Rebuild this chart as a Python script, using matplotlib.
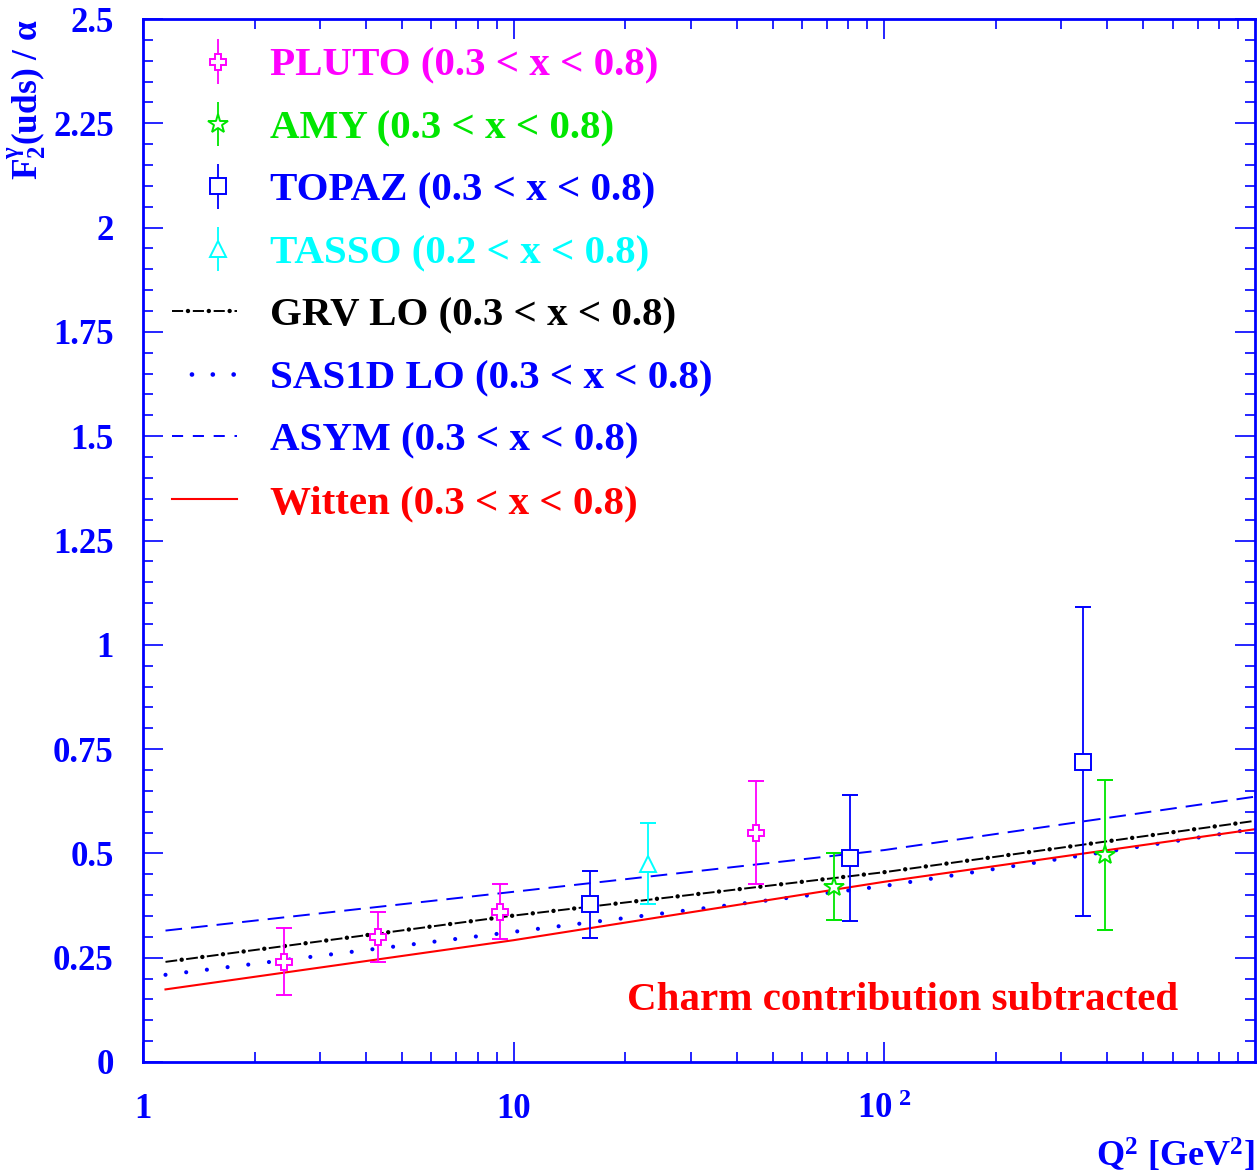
import numpy as np
import matplotlib
matplotlib.use('Agg')
import matplotlib.pyplot as plt
from matplotlib.lines import Line2D
from matplotlib.legend_handler import HandlerErrorbar

plt.rcParams['font.family'] = ['Liberation Serif', 'DejaVu Serif']
plt.rcParams['font.weight'] = 'bold'
plt.rcParams['mathtext.fontset'] = 'custom'
plt.rcParams['mathtext.rm'] = 'Liberation Serif:weight=bold'
plt.rcParams['mathtext.it'] = 'Liberation Serif:style=italic:weight=bold'
plt.rcParams['mathtext.bf'] = 'Liberation Serif:weight=bold'
plt.rcParams['mathtext.default'] = 'bf'
plt.rcParams['lines.scale_dashes'] = False

#measured points
pluto_q2 = [2.4, 4.3, 9.2, 45.0]
pluto_f2 = [0.24, 0.30, 0.36, 0.55]
pluto_err = [0.08, 0.06, 0.066, 0.123]

amy_q2 = [73.0, 395.0]
amy_f2 = [0.42, 0.497]
amy_err = [0.08, 0.18]

topaz_q2 = [16.1, 81.0, 343.0]
topaz_f2 = [0.378, 0.489, 0.72]
topaz_err = [0.08, 0.15, 0.37]

tasso_q2 = [23.0]
tasso_f2 = [0.475]
tasso_err = [0.097]

#model curves
curve_q2 = [1.15, 10.0, 100.0, 1000.0]
grv_f2 = [0.240, 0.351, 0.455, 0.578]
sas_f2 = [0.209, 0.312, 0.422, 0.559]
asym_f2 = [0.315, 0.408, 0.508, 0.636]
witten_f2 = [0.174, 0.292, 0.432, 0.558]

ytick_vals = [0, 0.25, 0.5, 0.75, 1, 1.25, 1.5, 1.75, 2, 2.25, 2.5]
ytick_labels = ['0', '0.25', '0.5', '0.75', '1', '1.25', '1.5', '1.75', '2', '2.25', '2.5']
xtick_vals = [1, 10, 100]
xtick_labels = ['1', '10', r'$\mathbf{10^{\ 2}}$']

BLUE = '#0000ff'
MAG = '#ff00ff'
GRN = '#00e600'
CYA = '#00ffff'
RED = '#ff0000'

fig = plt.figure(figsize=(12.59, 11.74), dpi=100)
ax = fig.add_axes([143/1259, 112/1174, 1112/1259, 1043/1174])

ax.plot(curve_q2, asym_f2, color=BLUE, lw=1.4, linestyle=(0, (12, 6.5)))
ax.plot(curve_q2, sas_f2, color=BLUE, lw=3.0, linestyle=(0, (0.01, 15)), dash_capstyle='round')
ax.plot(curve_q2, grv_f2, color='black', lw=1.4, linestyle=(0, (8.5, 6.5)))
ax.plot(curve_q2, grv_f2, color='black', lw=3.2, linestyle=(3.25, (0.01, 14.99)), dash_capstyle='round')
ax.plot(curve_q2, witten_f2, color=RED, lw=1.5)

ebkw = dict(capsize=5.5, elinewidth=1.3, capthick=1.3, markersize=12, markeredgewidth=1.4,
            markerfacecolor='white', linestyle='none')
ax.errorbar(pluto_q2, pluto_f2, yerr=pluto_err, fmt='P', color=MAG, **ebkw)
ax.errorbar(amy_q2, amy_f2, yerr=amy_err, fmt='*', color=GRN, **dict(ebkw, markersize=15))
ax.errorbar(topaz_q2, topaz_f2, yerr=topaz_err, fmt='s', color=BLUE, **ebkw)
ax.errorbar(tasso_q2, tasso_f2, yerr=tasso_err, fmt='^', color=CYA, **ebkw)

ax.set_xscale('log')
ax.set_xlim(1, 1000)
ax.set_ylim(0, 2.5)
ax.set_xticks(xtick_vals)
ax.set_xticklabels(xtick_labels)
ax.set_xticks([m * d for d in (1, 10, 100) for m in range(2, 10)], minor=True)
ax.set_xticklabels([], minor=True)
ax.set_yticks(ytick_vals)
ax.set_yticklabels(ytick_labels)
ax.set_yticks(np.arange(0, 2.5001, 0.05), minor=True)

ax.tick_params(which='both', direction='in', top=True, right=True, color=BLUE,
               labelcolor=BLUE, labelsize=25, width=1.2)
ax.tick_params(which='major', length=14.5)
ax.tick_params(which='minor', length=7.2)
ax.tick_params(axis='x', pad=22)
ax.tick_params(axis='y', pad=21)
for sp in ax.spines.values():
    sp.set_color(BLUE)
    sp.set_linewidth(2.0)

ax.set_xlabel(r'$\mathbf{Q^{2}\ [GeV^{2}]}$', color=BLUE, fontsize=26, loc='right', labelpad=8)
ax.set_ylabel(r'$\mathbf{F_{2}^{\gamma}(uds)\ /\ \alpha}$', color=BLUE, fontsize=25.5, loc='top', labelpad=4)

ax.text(0.683, 0.059, 'Charm contribution subtracted', color=RED, fontsize=29.5,
        transform=ax.transAxes, ha='center', va='center')

#legend proxies without caps
pkw = dict(capsize=0, elinewidth=1.3, markersize=12, markeredgewidth=1.4,
           markerfacecolor='white', linestyle='none')
h_pluto = ax.errorbar([np.nan], [np.nan], yerr=[np.nan], fmt='P', color=MAG, **pkw)
h_amy = ax.errorbar([np.nan], [np.nan], yerr=[np.nan], fmt='*', color=GRN, **dict(pkw, markersize=15))
h_topaz = ax.errorbar([np.nan], [np.nan], yerr=[np.nan], fmt='s', color=BLUE, **pkw)
h_tasso = ax.errorbar([np.nan], [np.nan], yerr=[np.nan], fmt='^', color=CYA, **pkw)
h_grv = (Line2D([], [], color='black', lw=1.4, linestyle=(0, (8, 7))),
         Line2D([], [], color='black', lw=3.2, linestyle=(3.5, (0.01, 14.99)), dash_capstyle='round'))
h_sas = Line2D([], [], color=BLUE, lw=3.4, linestyle=(1, (0.01, 15)), dash_capstyle='round')
h_asym = Line2D([], [], color=BLUE, lw=1.4, linestyle=(0, (8, 7)))
h_wit = Line2D([], [], color=RED, lw=1.5)


class BarRight(HandlerErrorbar):
    def get_xdata(self, legend, xdescent, ydescent, width, height, fontsize):
        xdata, xm = super().get_xdata(legend, xdescent, ydescent, width, height, fontsize)
        return xdata, [-xdescent + 0.71 * width]


handles = [h_pluto, h_amy, h_topaz, h_tasso, h_grv, h_sas, h_asym, h_wit]
labels = ['PLUTO (0.3 < x < 0.8)', 'AMY (0.3 < x < 0.8)', 'TOPAZ (0.3 < x < 0.8)',
          'TASSO (0.2 < x < 0.8)', 'GRV LO (0.3 < x < 0.8)', 'SAS1D LO (0.3 < x < 0.8)',
          'ASYM (0.3 < x < 0.8)', 'Witten (0.3 < x < 0.8)']
colors = [MAG, GRN, BLUE, CYA, 'black', BLUE, BLUE, RED]
hm = {h: BarRight(yerr_size=0.54) for h in handles[:4]}
leg = ax.legend(handles, labels, handler_map=hm, loc='upper left',
                bbox_to_anchor=((172-143)/1112, 0.973), borderpad=0, borderaxespad=0,
                frameon=False, fontsize=29.5, handlelength=1.58, handletextpad=0.8,
                labelspacing=0.605)
for t, c in zip(leg.get_texts(), colors):
    t.set_color(c)

fig.savefig('out.png', dpi=100)
